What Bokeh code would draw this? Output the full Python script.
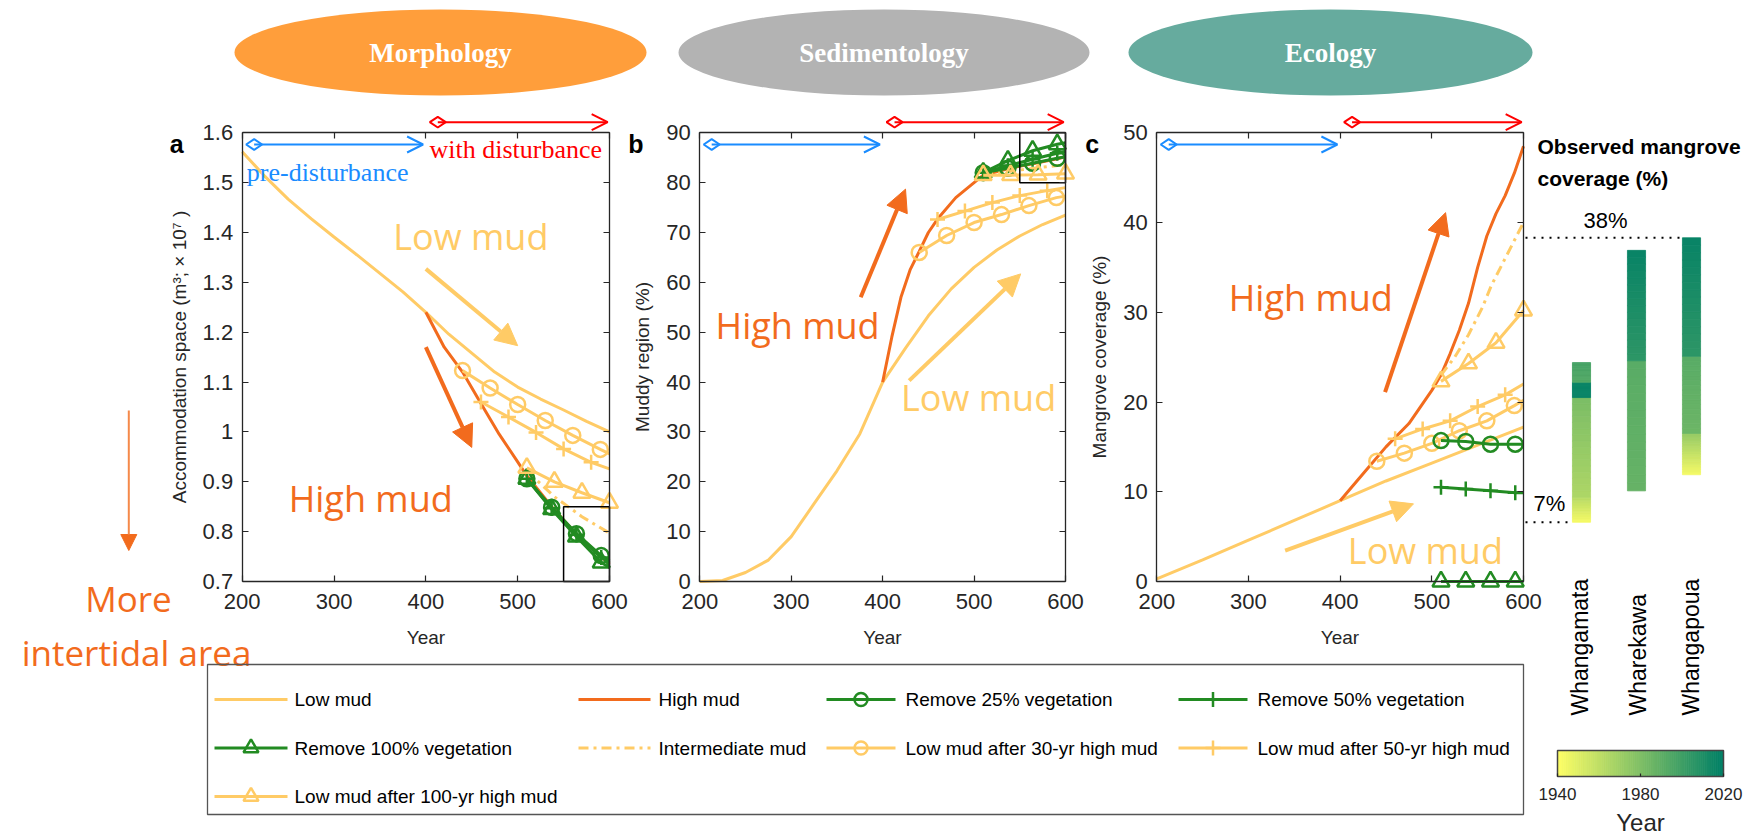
import numpy as np
from bokeh.plotting import figure
from bokeh.models import (Range1d, LinearAxis, FixedTicker, PrintfTickFormatter,
                          Arrow, NormalHead, OpenHead)
from bokeh.core.properties import value
from bokeh.transform import linear_cmap
from bokeh.embed import file_html
from bokeh.resources import INLINE

# ------------------------------------------------------------------ data
year_ticks = [200, 300, 400, 500, 600]
ticks_a = [0.7, 0.8, 0.9, 1.0, 1.1, 1.2, 1.3, 1.4, 1.5, 1.6]
ticks_b = [0, 10, 20, 30, 40, 50, 60, 70, 80, 90]
ticks_c = [0, 10, 20, 30, 40, 50]

low_x_ab = [200, 225, 250, 275, 300, 325, 350, 375, 400, 425, 450, 475, 500, 525, 550, 575, 600]
low_a = [1.562, 1.512, 1.467, 1.428, 1.391, 1.355, 1.318, 1.281, 1.24, 1.196, 1.158, 1.12, 1.09, 1.066, 1.044, 1.021, 1.0]
low_b = [0, 0.2, 1.8, 4.3, 9.0, 15.6, 22.2, 29.6, 40.0, 46.8, 53.3, 58.7, 63.0, 66.5, 69.3, 71.6, 73.5]
low_x_c = [200, 250, 300, 350, 400, 450, 500, 550, 600]
low_c = [0.3, 2.4, 4.6, 6.8, 9.0, 11.2, 13.2, 15.2, 17.2]

high_x_a = [400, 420, 440, 460, 480, 500, 510, 537, 564, 591, 600]
high_a = [1.24, 1.17, 1.12, 1.057, 0.995, 0.94, 0.912, 0.85, 0.795, 0.75, 0.735]
high_x_b = [400, 410, 420, 430, 440, 450, 460, 480, 500, 510, 537, 564, 591, 600]
high_b = [40.0, 49.0, 57.0, 62.5, 66.2, 70.0, 72.7, 77.0, 80.0, 81.5, 82.8, 83.8, 84.8, 85.2]
high_x_c = [400, 425, 450, 475, 500, 510, 520, 530, 540, 550, 560, 570, 580, 590, 600]
high_c = [9.0, 12.0, 15.0, 17.6, 21.3, 23.0, 25.4, 28.0, 31.0, 35.0, 38.5, 41.0, 43.0, 45.5, 48.5]

inter_x_ab = [510, 540, 570, 600]
inter_a = [0.922, 0.87, 0.83, 0.797]
inter_b = [81.6, 82.3, 83.0, 83.6]
inter_x_c = [510, 525, 540, 555, 565, 580, 590, 600]
inter_c = [23.0, 25.0, 27.5, 30.5, 33.0, 36.0, 38.0, 40.0]

after30_x = [440, 470, 500, 530, 560, 590, 600]
after30_a = [1.123, 1.088, 1.055, 1.023, 0.993, 0.965, 0.956]
after30_b = [66.0, 69.4, 72.0, 73.6, 75.4, 77.0, 77.3]
after30_c = [13.4, 14.3, 15.4, 16.8, 17.9, 19.6, 20.2]

after50_x = [460, 490, 520, 550, 580, 600]
after50_a = [1.060, 1.030, 0.999, 0.966, 0.939, 0.926]
after50_b = [72.6, 74.3, 76.0, 77.4, 78.4, 79.0]
after50_c = [15.9, 17.0, 17.9, 19.5, 20.8, 22.0]

after100_x = [510, 540, 570, 600]
after100_a = [0.928, 0.900, 0.878, 0.858]
after100_b = [81.5, 81.5, 81.6, 81.8]
after100_c = [22.3, 24.3, 26.6, 30.2]

veg_x = [510, 537, 564, 591, 600]
rm25_a = [0.906, 0.849, 0.796, 0.752, 0.742]
rm50_a = [0.906, 0.847, 0.794, 0.748, 0.738]
rm100_a = [0.906, 0.845, 0.790, 0.738, 0.728]
rm25_b = [82.0, 82.9, 83.9, 84.9, 85.2]
rm50_b = [82.0, 83.4, 84.7, 85.9, 86.3]
rm100_b = [82.0, 84.4, 86.4, 87.7, 88.0]
rm25_c = [15.7, 15.6, 15.3, 15.3, 15.3]
rm50_c = [10.5, 10.3, 10.1, 9.9, 9.9]
rm100_c = [0, 0, 0, 0, 0]

# zoom boxes (x0, x1, y0, y1)
zoombox_a = [550, 600, 0.7, 0.85]
zoombox_b = [550, 600, 80, 90]

# annotation arrows: [x_tail, y_tail, x_head, y_head]
arr_low_a = [400, 1.327, 500, 1.173]
arr_high_a = [400, 1.17, 450, 0.969]
arr_high_b = [376, 57.0, 425, 78.7]
arr_low_b = [429, 40.3, 551, 61.7]
arr_high_c = [449, 21.1, 515, 41.1]
arr_low_c = [340, 3.45, 480, 8.65]
# annotation text positions
txt_low_a = [449, 1.391]
txt_high_a = [340, 0.867]
txt_high_b = [307, 51.3]
txt_low_b = [505, 36.9]
txt_high_c = [368, 31.7]
txt_low_c = [493, 3.45]

pre_period = [213, 397]
dist_period = [413, 598]

# observed mangrove coverage bars (segments coloured by year)
sites = ["Whangamata", "Wharekawa", "Whangapoua"]
seg_site = [0, 0, 0, 0, 1, 1, 2, 2, 2]
seg_cov_lo = [6.6, 9.4, 20.5, 22.2, 10.1, 24.6, 11.9, 16.5, 25.1]
seg_cov_hi = [9.4, 20.5, 22.2, 24.4, 24.6, 36.9, 16.5, 25.1, 38.3]
seg_yr_lo = [1943, 1966, 2017, 1994, 1988, 2006, 1944, 1986, 2006]
seg_yr_hi = [1962, 1981, 2017, 1998, 1992, 2017, 1972, 1992, 2017]
cbar_ticks = [1940, 1980, 2020]

# ------------------------------------------------------------------ layout
W, H = 1754, 836


def Y(cy):
    return H - cy


def lin_range(v0, v1, p0, p1, total):
    k = (v1 - v0) / (p1 - p0)
    s = v0 - p0 * k
    return Range1d(start=s, end=s + total * k)


YELLOW = "#FFCB66"
ORANGE = "#F26B1D"
GREEN = "#228B22"
BLUE = "#1A8CFF"
RED = "#FF0000"
AX = "#262626"
SANS = "Liberation Sans"
SERIF = "Liberation Serif"
CAL = "Open Sans"

p = figure(width=W, height=H, x_range=Range1d(0, W), y_range=Range1d(0, H),
           x_axis_type=None, y_axis_type=None, toolbar_location=None,
           output_backend="svg", min_border=0, outline_line_color=None,
           background_fill_color="white", border_fill_color="white")

TOP, BOT = 132.3, 581.0
panel_px = {"a": (241.7, 609.0), "b": (699.3, 1065.0), "c": (1156.3, 1523.0)}
panel_y = {"a": (0.7, 1.6), "b": (0, 90), "c": (0, 50)}
panel_ticks = {"a": ticks_a, "b": ticks_b, "c": ticks_c}
panel_lab = {"a": "Accommodation space (m³; × 10⁷ )", "b": "Muddy region (%)",
             "c": "Mangrove coverage (%)"}

for k, (l, r) in panel_px.items():
    p.extra_x_ranges[k + "x"] = lin_range(200, 600, l, r, W)
    y0, y1 = panel_y[k]
    p.extra_y_ranges[k + "y"] = lin_range(y0, y1, Y(BOT), Y(TOP), H)
p.extra_x_ranges["site"] = lin_range(0, 2, 1581, 1691, W)
p.extra_x_ranges["cb"] = lin_range(1940, 2020, 1557, 1723, W)


def style_axis(ax, labels=True):
    ax.axis_line_color = AX
    ax.axis_line_width = 1.3
    ax.major_tick_line_color = AX
    ax.major_tick_line_width = 1.2
    ax.major_tick_in = 6
    ax.major_tick_out = 0
    ax.minor_tick_line_color = None
    ax.major_label_text_font = SANS
    ax.major_label_text_font_size = "22px"
    ax.major_label_text_color = AX if labels else None
    ax.axis_label_text_font = SANS
    ax.axis_label_text_font_size = "19px"
    ax.axis_label_text_font_style = "normal"
    ax.axis_label_text_color = AX


for k in panel_px:
    xr, yr = k + "x", k + "y"
    y0, y1 = panel_y[k]
    bx = LinearAxis(x_range_name=xr, y_range_name=yr, fixed_location=y0, bounds=(200, 600),
                    ticker=FixedTicker(ticks=year_ticks), axis_label="Year")
    style_axis(bx)
    bx.major_label_standoff = 12
    bx.axis_label_standoff = 15
    p.add_layout(bx, "below")
    ly = LinearAxis(x_range_name=xr, y_range_name=yr, fixed_location=200, bounds=(y0, y1),
                    ticker=FixedTicker(ticks=panel_ticks[k]),
                    formatter=PrintfTickFormatter(format="%g"), axis_label=panel_lab[k])
    style_axis(ly)
    ly.major_label_standoff = 9
    ly.axis_label_standoff = 10
    p.add_layout(ly, "left")
    tx = LinearAxis(x_range_name=xr, y_range_name=yr, fixed_location=y1, bounds=(200, 600),
                    ticker=FixedTicker(ticks=year_ticks))
    style_axis(tx, labels=False)
    p.add_layout(tx, "above")
    ry = LinearAxis(x_range_name=xr, y_range_name=yr, fixed_location=600, bounds=(y0, y1),
                    ticker=FixedTicker(ticks=panel_ticks[k]))
    style_axis(ry, labels=False)
    p.add_layout(ry, "right")

# ------------------------------------------------------------------ series
series = {
    "a": dict(low=(low_x_ab, low_a), high=(high_x_a, high_a), inter=(inter_x_ab, inter_a),
              a30=after30_a, a50=after50_a, a100=after100_a, g25=rm25_a, g50=rm50_a, g100=rm100_a),
    "b": dict(low=(low_x_ab, low_b), high=(high_x_b, high_b), inter=(inter_x_ab, inter_b),
              a30=after30_b, a50=after50_b, a100=after100_b, g25=rm25_b, g50=rm50_b, g100=rm100_b),
    "c": dict(low=(low_x_c, low_c), high=(high_x_c, high_c), inter=(inter_x_c, inter_c),
              a30=after30_c, a50=after50_c, a100=after100_c, g25=rm25_c, g50=rm50_c, g100=rm100_c),
}

LW = 3


def marked(xr, yr, xs, ys, n_mk, color, marker, size):
    p.line(xs, ys, x_range_name=xr, y_range_name=yr, line_color=color, line_width=LW)
    p.scatter(xs[:n_mk], ys[:n_mk], x_range_name=xr, y_range_name=yr, marker=marker,
              size=size, fill_color=None, line_color=color, line_width=2.5)


for k, s in series.items():
    xr, yr = k + "x", k + "y"
    p.line(*s["low"], x_range_name=xr, y_range_name=yr, line_color=YELLOW, line_width=LW)
    p.line(*s["high"], x_range_name=xr, y_range_name=yr, line_color=ORANGE, line_width=LW)
    p.line(*s["inter"], x_range_name=xr, y_range_name=yr, line_color=YELLOW, line_width=LW,
           line_dash="10 5 3 5")
    marked(xr, yr, after30_x, s["a30"], 6, YELLOW, "circle", 15)
    marked(xr, yr, after50_x, s["a50"], 5, YELLOW, "cross", 15)
    marked(xr, yr, veg_x, s["g25"], 4, GREEN, "circle", 15)
    marked(xr, yr, veg_x, s["g50"], 4, GREEN, "cross", 15)
    marked(xr, yr, veg_x, s["g100"], 4, GREEN, "triangle", 17)
    marked(xr, yr, after100_x, s["a100"], 4, YELLOW, "triangle", 17)

for k, box in (("a", zoombox_a), ("b", zoombox_b)):
    p.quad(left=[box[0]], right=[box[1]], bottom=[box[2]], top=[box[3]],
           x_range_name=k + "x", y_range_name=k + "y", fill_color=None,
           line_color="black", line_width=1.5)

# annotation arrows and texts
for k, arr, col in (("a", arr_low_a, YELLOW), ("a", arr_high_a, ORANGE),
                    ("b", arr_high_b, ORANGE), ("b", arr_low_b, YELLOW),
                    ("c", arr_high_c, ORANGE), ("c", arr_low_c, YELLOW)):
    p.add_layout(Arrow(x_start=arr[0], y_start=arr[1], x_end=arr[2], y_end=arr[3],
                       x_range_name=k + "x", y_range_name=k + "y", line_color=col, line_width=4,
                       end=NormalHead(size=22, fill_color=col, line_color=col)))

for k, pos, txt, col in (("a", txt_low_a, "Low mud", YELLOW), ("a", txt_high_a, "High mud", ORANGE),
                         ("b", txt_high_b, "High mud", ORANGE), ("b", txt_low_b, "Low mud", YELLOW),
                         ("c", txt_high_c, "High mud", ORANGE), ("c", txt_low_c, "Low mud", YELLOW)):
    p.text([pos[0]], [pos[1]], text=[txt], x_range_name=k + "x", y_range_name=k + "y",
           text_font=value(CAL), text_font_size="36px", text_color=col,
           text_align="center", text_baseline="middle")

# period arrows (pre-disturbance / with disturbance)
BLUE_Y, RED_Y = 144, 121.7
for k in panel_px:
    xr = k + "x"
    p.add_layout(Arrow(x_start=pre_period[0], y_start=Y(BLUE_Y), x_end=pre_period[1], y_end=Y(BLUE_Y),
                       x_range_name=xr, line_color=BLUE, line_width=2,
                       end=OpenHead(size=16, line_color=BLUE, line_width=2)))
    p.scatter([pre_period[0]], [Y(BLUE_Y)], x_range_name=xr, marker="diamond", size=16,
              angle=np.pi / 2, fill_color="white", line_color=BLUE, line_width=2)
    p.add_layout(Arrow(x_start=dist_period[0], y_start=Y(RED_Y), x_end=dist_period[1], y_end=Y(RED_Y),
                       x_range_name=xr, line_color=RED, line_width=2,
                       end=OpenHead(size=16, line_color=RED, line_width=2)))
    p.scatter([dist_period[0]], [Y(RED_Y)], x_range_name=xr, marker="diamond", size=16,
              angle=np.pi / 2, fill_color="white", line_color=RED, line_width=2)

p.text([pre_period[0] - 8], [Y(172)], text=["pre-disturbance"], x_range_name="ax",
       text_font=value(SERIF), text_font_size="26px", text_color=BLUE,
       text_align="left", text_baseline="middle")
p.text([dist_period[0] - 9], [Y(149)], text=["with disturbance"], x_range_name="ax",
       text_font=value(SERIF), text_font_size="26px", text_color=RED,
       text_align="left", text_baseline="middle")

# panel letters
p.text([176.3, 635.5, 1091.7], [Y(143.3)] * 3, text=["a", "b", "c"],
       text_font=value(SANS), text_font_size="25px", text_font_style="bold",
       text_color="black", text_align="center", text_baseline="alphabetic")

# ------------------------------------------------------------------ header ellipses
hdr_x = [440, 883.5, 1330]
p.ellipse(hdr_x, [Y(52)] * 3, width=[412, 411, 404], height=86,
          fill_color=["#FF9E3B", "#B3B3B3", "#66AB9E"], line_color=None)
p.text(hdr_x, [Y(52)] * 3, text=["Morphology", "Sedimentology", "Ecology"],
       text_font=value(SERIF), text_font_size="27px", text_font_style="bold",
       text_color="white", text_align="center", text_baseline="middle")

# ------------------------------------------------------------------ more intertidal area
p.add_layout(Arrow(x_start=128.3, y_start=Y(410), x_end=128.3, y_end=Y(550),
                   line_color="#F5894A", line_width=2,
                   end=NormalHead(size=16, fill_color=ORANGE, line_color=ORANGE)))
p.text([128, 136], [Y(598), Y(652)], text=["More", "intertidal area"],
       text_font=value(CAL), text_font_size="35px", text_color=ORANGE,
       text_align="center", text_baseline="alphabetic")

# ------------------------------------------------------------------ observed coverage bars
palette = []
for t in np.linspace(0, 1, 256):
    r, g, b = 1 - t, 1 - 0.5 * t, 0.4
    palette.append("#%02x%02x%02x" % (int(round(r * 255)), int(round(g * 255)), int(round(b * 255))))
cmap = linear_cmap("yr", palette, 1940, 2020)

NSUB = 16
bl, br, bb, bt, byr = [], [], [], [], []
for s_i, c0, c1, y0, y1 in zip(seg_site, seg_cov_lo, seg_cov_hi, seg_yr_lo, seg_yr_hi):
    cov = np.linspace(c0, c1, NSUB + 1)
    yrs = np.linspace(y0, y1, NSUB)
    for j in range(NSUB):
        bl.append(s_i - 0.165)
        br.append(s_i + 0.165)
        bb.append(cov[j])
        bt.append(cov[j + 1])
        byr.append(yrs[j])
p.quad(left="l", right="r", bottom="b", top="t",
       source=dict(l=bl, r=br, b=bb, t=bt, yr=byr),
       x_range_name="site", y_range_name="cy", fill_color=cmap, line_color=cmap, line_width=0.8)

top_obs = max(seg_cov_hi)
bot_obs = min(seg_cov_lo)
p.line([1525, 1683], [top_obs, top_obs], y_range_name="cy", line_color="black",
       line_width=2, line_dash="2 6")
p.line([1525, 1572], [bot_obs, bot_obs], y_range_name="cy", line_color="black",
       line_width=2, line_dash="2 6")
p.text([1605, 1549], [top_obs, bot_obs], text=["%d%%" % round(top_obs), "%d%%" % round(bot_obs)],
       y_range_name="cy", y_offset=[-17, -19], text_font=value(SANS), text_font_size="22px",
       text_color="black", text_align="center", text_baseline="middle")
p.text([1537, 1537], [Y(146), Y(178)], text=["Observed mangrove", "coverage (%)"],
       text_font=value(SANS), text_font_size="21px", text_font_style="bold",
       text_color="black", text_align="left", text_baseline="middle")
p.text([0, 1, 2], [Y(715)] * 3, text=sites, x_range_name="site", angle=np.pi / 2,
       x_offset=[-2, 1, -1],
       text_font=value(SANS), text_font_size="23px", text_color="black",
       text_align="left", text_baseline="middle")

# colour bar
cb_years = list(range(1940, 2020))
p.quad(left="l", right="r", bottom=Y(776), top=Y(750),
       source=dict(l=cb_years, r=[v + 1 for v in cb_years], yr=[v + 0.5 for v in cb_years]),
       x_range_name="cb", fill_color=cmap, line_color=cmap, line_width=0.8)
p.quad(left=[1940], right=[2020], bottom=[Y(776)], top=[Y(750)], x_range_name="cb",
       fill_color=None, line_color="#444444", line_width=1.5)
cbax = LinearAxis(x_range_name="cb", fixed_location=Y(776), bounds=(1940, 2020),
                  ticker=FixedTicker(ticks=cbar_ticks), axis_label="Year")
style_axis(cbax)
cbax.axis_line_color = None
cbax.major_tick_in = 3
cbax.major_label_text_font_size = "17px"
cbax.axis_label_text_font_size = "24px"
cbax.major_label_standoff = 11
cbax.axis_label_standoff = 6
p.add_layout(cbax, "below")

# ------------------------------------------------------------------ legend
LEG_Y = [699, 747.5, 796]
LEG_LINE = [(214, 287), (578, 650), (826, 895), (1178, 1247)]
LEG_TX = [294, 658, 905, 1257]
legend_items = [
    (0, 0, "Low mud", YELLOW, "solid", None, 15),
    (1, 0, "High mud", ORANGE, "solid", None, 15),
    (2, 0, "Remove 25% vegetation", GREEN, "solid", "circle", 13),
    (3, 0, "Remove 50% vegetation", GREEN, "solid", "cross", 15),
    (0, 1, "Remove 100% vegetation", GREEN, "solid", "triangle", 15),
    (1, 1, "Intermediate mud", YELLOW, "10 5 3 5", None, 15),
    (2, 1, "Low mud after 30-yr high mud", YELLOW, "solid", "circle", 13),
    (3, 1, "Low mud after 50-yr high mud", YELLOW, "solid", "cross", 15),
    (0, 2, "Low mud after 100-yr high mud", YELLOW, "solid", "triangle", 15),
]
p.quad(left=[207], right=[1523], top=[Y(664)], bottom=[Y(814)], fill_color=None,
       line_color="#555555", line_width=1.3)
for col, row, lab, colr, dash, mk, sz in legend_items:
    x0, x1 = LEG_LINE[col]
    yy = Y(LEG_Y[row])
    p.line([x0, x1], [yy, yy], line_color=colr, line_width=LW, line_dash=dash)
    if mk:
        p.scatter([(x0 + x1) / 2], [yy], marker=mk, size=sz, fill_color=None,
                  line_color=colr, line_width=2.5)
    p.text([LEG_TX[col]], [yy], text=[lab], text_font=value(SANS), text_font_size="19px",
           text_color="black", text_align="left", text_baseline="middle")

open("out.html", "w").write(file_html(p, INLINE))
